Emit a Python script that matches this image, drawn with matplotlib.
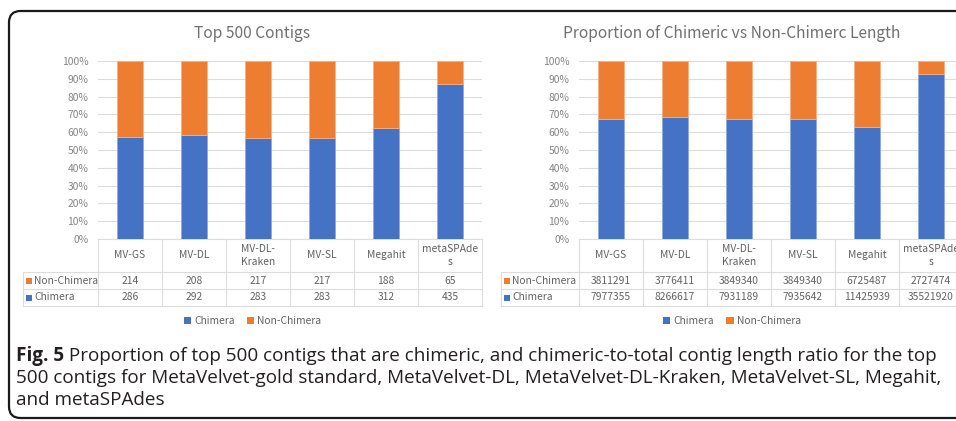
import matplotlib
matplotlib.use("Agg")
import matplotlib.pyplot as plt
from matplotlib.patches import FancyBboxPatch, Patch, Rectangle
import matplotlib.transforms as mtransforms
import numpy as np

# ---------------- data ----------------
categories = ["MV-GS", "MV-DL", "MV-DL-\nKraken", "MV-SL", "Megahit", "metaSPAde\ns"]
series_names = ["Chimera", "Non-Chimera"]
count_chimera = [286, 292, 283, 283, 312, 435]
count_non_chimera = [214, 208, 217, 217, 188, 65]
len_chimera = [7977355, 8266617, 7931189, 7935642, 11425939, 35521920]
len_non_chimera = [3811291, 3776411, 3849340, 3849340, 6725487, 2727474]
y_ticks = [0, 10, 20, 30, 40, 50, 60, 70, 80, 90, 100]
titles = ["Top 500 Contigs", "Proportion of Chimeric vs Non-Chimerc Length"]
caption_bold = "Fig. 5"
caption_lines = [
    " Proportion of top 500 contigs that are chimeric, and chimeric-to-total contig length ratio for the top",
    "500 contigs for MetaVelvet-gold standard, MetaVelvet-DL, MetaVelvet-DL-Kraken, MetaVelvet-SL, Megahit,",
    "and metaSPAdes",
]

BLUE = "#4472C4"
ORANGE = "#ED7D31"
GRID = "#DCDCDC"
TXT = "#626262"
TITLE_C = "#707070"
TICK = "#848484"
CHART_FONT = ["Noto Sans CJK JP", "DejaVu Sans"]
CAP_FONT = ["Open Sans", "DejaVu Sans"]

W, H = 956, 421
fig = plt.figure(figsize=(W / 100, H / 100), dpi=100)
fig.patch.set_facecolor("white")


def fx(x):
    return x / W


def fy(y):
    return 1 - y / H


# outer rounded frame (extends past right edge)
frame = FancyBboxPatch((fx(9), fy(418)), fx(980 - 9), fy(11) - fy(418),
                       boxstyle="round,pad=0,rounding_size=0.012",
                       transform=fig.transFigure, fill=False,
                       edgecolor="#1a1a1a", linewidth=1.6, clip_on=False,
                       mutation_aspect=W / H)
fig.add_artist(frame)

ax_top, ax_bot = 61, 239
panels = [
    dict(left=98, label_left=23, chim=count_chimera, non=count_non_chimera, title=titles[0]),
    dict(left=579, label_left=501, chim=len_chimera, non=len_non_chimera, title=titles[1]),
]

col_w = 64.0
n = len(categories)

for p in panels:
    ax = fig.add_axes([fx(p["left"]), fy(ax_bot), fx(col_w * n), fy(ax_top) - fy(ax_bot)])
    chim = np.array(p["chim"], dtype=float)
    non = np.array(p["non"], dtype=float)
    tot = chim + non
    x = np.arange(n)
    ax.bar(x, chim / tot, width=0.4, color=BLUE, edgecolor="#8faadc", linewidth=0.6, zorder=3)
    ax.bar(x, non / tot, bottom=chim / tot, width=0.4, color=ORANGE, edgecolor="#f4b183",
           linewidth=0.6, zorder=3)
    ax.set_xlim(-0.5, n - 0.5)
    ax.set_ylim(0, 1)
    ax.set_yticks([t / 100 for t in y_ticks])
    ax.set_yticklabels([f"{t}%" for t in y_ticks], fontsize=7.4, color=TICK, family=CHART_FONT)
    ax.tick_params(axis="y", length=0, pad=7)
    ax.set_xticks([])
    for s in ax.spines.values():
        s.set_visible(False)
    ax.grid(axis="y", color=GRID, linewidth=0.8, zorder=0)

    trans = mtransforms.blended_transform_factory(ax.transData, ax.transAxes)
    hpx = ax_bot - ax_top

    def ay(ypx):
        return (ax_bot - ypx) / hpx

    x_label_left = -0.5 - (p["left"] - p["label_left"]) / col_w
    for k in range(n + 1):
        xx = k - 0.5
        ax.plot([xx, xx], [ay(239), ay(306)], transform=trans, color=GRID, lw=0.8, clip_on=False)
    ax.plot([x_label_left, x_label_left], [ay(272), ay(306)], transform=trans, color=GRID,
            lw=0.8, clip_on=False)
    ax.plot([-0.5, n - 0.5], [ay(239), ay(239)], transform=trans, color=GRID, lw=0.8, clip_on=False)
    for ypx in [272, 289, 306]:
        ax.plot([x_label_left, n - 0.5], [ay(ypx), ay(ypx)], transform=trans, color=GRID, lw=0.8,
                clip_on=False)
    for i, c in enumerate(categories):
        ax.text(i, ay(255.5), c, transform=trans, ha="center", va="center", fontsize=7.4,
                color=TXT, family=CHART_FONT, linespacing=1.45, clip_on=False)
    rows = [("Non-Chimera", ORANGE, p["non"], 280.5), ("Chimera", BLUE, p["chim"], 297.5)]
    for name, col, vals, ycen in rows:
        sq = Rectangle((x_label_left + 0.05, ay(ycen) - 3 / hpx), 6 / col_w, 6 / hpx,
                       transform=trans, facecolor=col, edgecolor="none", clip_on=False)
        ax.add_artist(sq)
        ax.text(x_label_left + 0.05 + 8 / col_w, ay(ycen), name, transform=trans, ha="left",
                va="center", fontsize=7.4, color=TXT, family=CHART_FONT, clip_on=False)
        for i, v in enumerate(vals):
            ax.text(i, ay(ycen), f"{v}", transform=trans, ha="center", va="center", fontsize=7.4,
                    color=TXT, family=CHART_FONT, clip_on=False)

    box_center_px = (p["label_left"] + p["left"] + col_w * n) / 2
    fig.text(fx(box_center_px), fy(34), p["title"], ha="center", va="center", fontsize=11.2,
             color=TITLE_C, family=CHART_FONT)
    handles = [Patch(facecolor=BLUE, edgecolor="none"), Patch(facecolor=ORANGE, edgecolor="none")]
    fig.legend(handles, series_names, loc="center", bbox_to_anchor=(fx(box_center_px), fy(321)),
               ncol=2, frameon=False, handlelength=0.7, handleheight=0.7, handletextpad=0.3,
               columnspacing=1.2, prop=dict(family=CHART_FONT, size=7.4), labelcolor=TXT)

# caption, sized so that the first line spans the same width as the reference
renderer = fig.canvas.get_renderer()
target_right = 940.0
cap_size = 13.0
for _ in range(3):
    tb = fig.text(0, 0, caption_bold, fontsize=cap_size, fontweight="bold", family=CAP_FONT)
    tr = fig.text(0, 0, caption_lines[0], fontsize=cap_size, family=CAP_FONT)
    wtot = tb.get_window_extent(renderer).width + tr.get_window_extent(renderer).width
    tb.remove()
    tr.remove()
    cap_size *= (target_right - 16) / wtot

bold = fig.text(fx(16), fy(356), caption_bold, ha="left", va="center", fontsize=cap_size,
                fontweight="bold", color="#231f20", family=CAP_FONT)
bb = bold.get_window_extent(renderer=renderer)
fig.text(bb.x1 / W, fy(356), caption_lines[0], ha="left", va="center", fontsize=cap_size,
         color="#231f20", family=CAP_FONT)
fig.text(fx(16), fy(378), caption_lines[1], ha="left", va="center", fontsize=cap_size,
         color="#231f20", family=CAP_FONT)
fig.text(fx(16), fy(400), caption_lines[2], ha="left", va="center", fontsize=cap_size,
         color="#231f20", family=CAP_FONT)

fig.savefig("out.png", dpi=100, facecolor="white")
